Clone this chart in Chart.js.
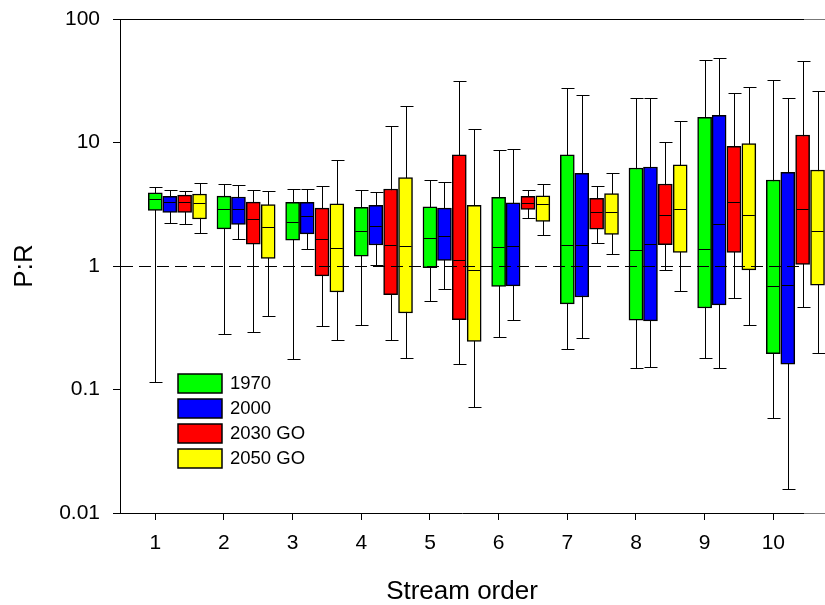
<!DOCTYPE html>
<html>
<head>
<meta charset="utf-8">
<title>P:R by stream order</title>
<script src="https://cdn.jsdelivr.net/npm/chart.js@4.4.1/dist/chart.umd.min.js"></script>
<style>
  html, body { margin: 0; padding: 0; background: #fff; }
  #wrap { width: 825px; height: 605px; }
</style>
</head>
<body>
<div id="wrap"><canvas id="pr-chart"></canvas></div>
<script>
// Stream orders on the x axis and decade ticks on the y axis
const streamOrders = [1, 2, 3, 4, 5, 6, 7, 8, 9, 10];
const yTicks = [0.01, 0.1, 1, 10, 100];
const seriesLabels = ['1970', '2000', '2030 GO', '2050 GO'];

// one row per stream order: [lower whisker, q1, median, q3, upper whisker]
const pr1970 = [
  [0.116, 2.82, 3.46, 3.92, 4.38],
  [0.280, 2.00, 2.91, 3.68, 4.59],
  [0.175, 1.62, 2.27, 3.27, 4.20],
  [0.335, 1.20, 1.93, 2.98, 4.15],
  [0.521, 0.97, 1.67, 3.02, 5.00],
  [0.264, 0.682, 1.42, 3.59, 8.75],
  [0.214, 0.493, 1.48, 7.93, 27.7],
  [0.148, 0.365, 1.34, 6.22, 23.1],
  [0.181, 0.457, 1.38, 16.0, 46.7],
  [0.0593, 0.195, 0.686, 4.97, 31.8]
];
const pr2000 = [
  [2.25, 2.72, 3.28, 3.66, 4.12],
  [1.64, 2.17, 2.91, 3.62, 4.50],
  [1.38, 1.82, 2.52, 3.27, 4.22],
  [1.01, 1.48, 2.12, 3.10, 3.99],
  [0.648, 1.11, 1.75, 2.94, 4.79],
  [0.368, 0.690, 1.44, 3.25, 8.92],
  [0.260, 0.561, 1.49, 5.63, 24.2],
  [0.152, 0.359, 1.52, 6.33, 23.0],
  [0.150, 0.484, 2.17, 16.6, 47.9],
  [0.0157, 0.160, 0.703, 5.74, 23.0]
];
const pr2030 = [
  [2.20, 2.72, 3.31, 3.75, 4.07],
  [0.292, 1.50, 2.41, 3.29, 4.12],
  [0.327, 0.831, 1.66, 2.94, 4.42],
  [0.251, 0.587, 1.47, 4.20, 13.7],
  [0.161, 0.368, 1.11, 7.93, 31.4],
  [2.44, 2.87, 3.25, 3.66, 4.12],
  [1.53, 1.99, 2.73, 3.53, 4.44],
  [0.92, 1.49, 2.60, 4.61, 10.1],
  [0.548, 1.29, 3.28, 9.32, 25.4],
  [0.466, 1.03, 2.89, 11.5, 45.3]
];
const pr2050 = [
  [1.86, 2.40, 3.23, 3.83, 4.72],
  [0.394, 1.15, 2.05, 3.15, 4.07],
  [0.250, 0.616, 1.40, 3.19, 7.26],
  [0.179, 0.416, 1.44, 5.19, 19.9],
  [0.0715, 0.245, 0.925, 3.10, 12.8],
  [1.79, 2.30, 3.15, 3.70, 4.61],
  [1.25, 1.80, 2.72, 3.85, 5.66],
  [0.625, 1.29, 2.91, 6.61, 15.0],
  [0.335, 0.93, 2.57, 9.79, 28.4],
  [0.197, 0.699, 1.92, 5.99, 26.3]
];

const seriesColors = ['#00ff00', '#0000ff', '#ff0000', '#ffff00'];
// boxes start on the tick and step to the right
const boxShift = [0, 0.211, 0.427, 0.644];
const FONT = '"Liberation Sans", Arial, Helvetica, sans-serif';

const allStats = [pr1970, pr2000, pr2030, pr2050];

const datasets = allStats.map((stats, s) => ({
  label: seriesLabels[s],
  data: streamOrders.map((order, i) => ({ x: order + boxShift[s], y: [stats[i][1], stats[i][3]] })),
  stats: stats,
  backgroundColor: seriesColors[s],
  borderColor: '#000',
  borderWidth: 1.5,
  borderSkipped: false,
  barThickness: 14,
  grouped: false,
  clip: false
}));

// whiskers, medians, reference line at 1, frame and legend
const boxExtras = {
  id: 'boxExtras',
  beforeDatasetsDraw(chart) {
    const ctx = chart.ctx;
    const yScale = chart.scales.y;
    ctx.save();
    ctx.strokeStyle = '#000';
    ctx.lineWidth = 1;
    chart.data.datasets.forEach((ds, d) => {
      chart.getDatasetMeta(d).data.forEach((bar, i) => {
        const st = ds.stats[i];
        const x = Math.round(bar.x) + 0.5;
        const yLo = Math.round(yScale.getPixelForValue(st[0])) + 0.5;
        const yHi = Math.round(yScale.getPixelForValue(st[4])) + 0.5;
        ctx.beginPath();
        ctx.moveTo(x, yLo);
        ctx.lineTo(x, yHi);
        ctx.moveTo(x - 6, yLo);
        ctx.lineTo(x + 7, yLo);
        ctx.moveTo(x - 6, yHi);
        ctx.lineTo(x + 7, yHi);
        ctx.stroke();
      });
    });
    ctx.restore();
  },
  afterDatasetsDraw(chart) {
    const ctx = chart.ctx;
    const yScale = chart.scales.y;
    const area = chart.chartArea;
    ctx.save();
    ctx.strokeStyle = '#000';
    ctx.lineWidth = 1;
    chart.data.datasets.forEach((ds, d) => {
      chart.getDatasetMeta(d).data.forEach((bar, i) => {
        const yMed = Math.round(yScale.getPixelForValue(ds.stats[i][2])) + 0.5;
        const half = bar.width / 2;
        ctx.beginPath();
        ctx.moveTo(bar.x - half + 1, yMed);
        ctx.lineTo(bar.x + half - 1, yMed);
        ctx.stroke();
      });
    });
    // dashed line at P:R = 1
    const yOne = Math.round(yScale.getPixelForValue(1)) + 0.5;
    ctx.setLineDash([12, 6]);
    ctx.beginPath();
    ctx.moveTo(area.left + 1, yOne);
    ctx.lineTo(area.right, yOne);
    ctx.stroke();
    ctx.restore();
  },
  afterDraw(chart) {
    const ctx = chart.ctx;
    const area = chart.chartArea;
    ctx.save();
    ctx.lineWidth = 1;
    // top frame line
    ctx.strokeStyle = '#000';
    ctx.beginPath();
    ctx.moveTo(area.left, Math.round(area.top) + 0.5);
    ctx.lineTo(area.right, Math.round(area.top) + 0.5);
    ctx.stroke();
    // grey continuation past the plot edge
    ctx.strokeStyle = '#777';
    ctx.beginPath();
    ctx.moveTo(area.right, Math.round(area.top) + 0.5);
    ctx.lineTo(chart.width, Math.round(area.top) + 0.5);
    ctx.moveTo(area.right, Math.round(area.bottom) + 0.5);
    ctx.lineTo(chart.width, Math.round(area.bottom) + 0.5);
    ctx.stroke();

    // legend inside the plot
    const lx = area.left + 58;
    const ly = area.top + 355;
    ctx.font = '18.5px ' + FONT;
    ctx.textBaseline = 'middle';
    ctx.textAlign = 'left';
    chart.data.datasets.forEach((ds, s) => {
      const top = ly + s * 25;
      ctx.fillStyle = ds.backgroundColor;
      ctx.fillRect(lx, top, 44, 19);
      ctx.strokeStyle = '#000';
      ctx.lineWidth = 1.5;
      ctx.strokeRect(lx, top, 44, 19);
      ctx.fillStyle = '#000';
      ctx.fillText(ds.label, lx + 52, top + 10);
    });
    ctx.restore();
  }
};

new Chart(document.getElementById('pr-chart'), {
  type: 'bar',
  data: { datasets: datasets },
  options: {
    responsive: true,
    maintainAspectRatio: false,
    animation: false,
    layout: { padding: { top: 19, right: 21, bottom: 0, left: 0 } },
    plugins: {
      legend: { display: false },
      tooltip: { enabled: false }
    },
    scales: {
      x: {
        type: 'linear',
        min: 0.486,
        max: 10.447,
        offset: false,
        afterBuildTicks: (scale) => { scale.ticks = streamOrders.map(v => ({ value: v })); },
        afterFit: (scale) => {
          scale.height = 92;
          scale.paddingLeft = 0;
          scale.paddingRight = 0;
        },
        grid: { display: true, offset: false, drawOnChartArea: false, drawTicks: true, tickLength: 7, color: '#000', lineWidth: 1 },
        border: { display: true, color: '#000', width: 1 },
        ticks: {
          color: '#000',
          font: { family: FONT, size: 21 },
          padding: 11,
          maxRotation: 0,
          autoSkip: false,
          callback: (v) => String(v)
        },
        title: {
          display: true,
          text: 'Stream order',
          color: '#000',
          font: { family: FONT, size: 26, lineHeight: 1.0 },
          padding: { top: 0, bottom: 0 }
        }
      },
      y: {
        type: 'logarithmic',
        min: 0.01,
        max: 100,
        afterBuildTicks: (scale) => { scale.ticks = yTicks.map(v => ({ value: v })); },
        afterFit: (scale) => {
          scale.width = 120;
          scale.paddingTop = 0;
          scale.paddingBottom = 0;
        },
        grid: { display: true, drawOnChartArea: false, drawTicks: true, tickLength: 7, color: '#000', lineWidth: 1 },
        border: { display: true, color: '#000', width: 1 },
        ticks: {
          color: '#000',
          font: { family: FONT, size: 21 },
          padding: 13,
          autoSkip: false,
          callback: (v) => String(v)
        },
        title: {
          display: true,
          text: 'P:R',
          color: '#000',
          font: { family: FONT, size: 26, lineHeight: 1.1 },
          padding: { top: 11, bottom: 0 }
        }
      }
    }
  },
  plugins: [boxExtras]
});
</script>
</body>
</html>
